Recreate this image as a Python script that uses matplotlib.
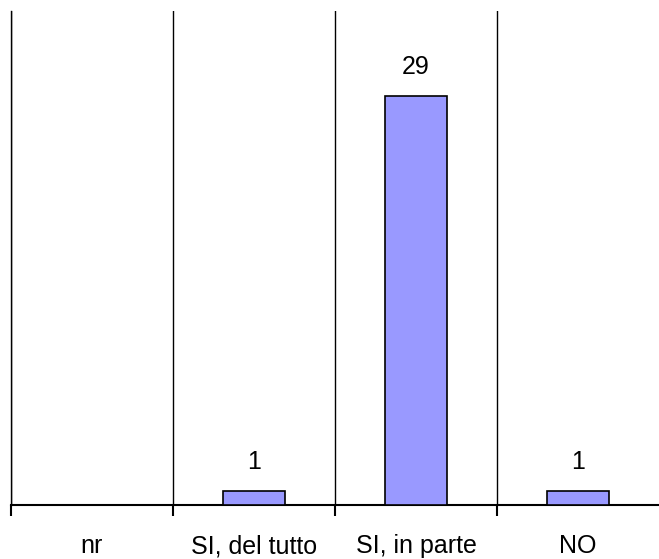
import numpy as np
import matplotlib
matplotlib.use('Agg')
import matplotlib.pyplot as plt

categories = ['nr', 'SI, del tutto', 'SI, in parte', 'NO']
values = [0, 1, 29, 1]

plt.rcParams['font.family'] = ['Liberation Sans', 'DejaVu Sans']

fig = plt.figure(figsize=(6.59, 5.59), dpi=100)
W, H = 659, 559
ax = fig.add_axes([11 / W, (H - 505) / H, (W - 11) / W, (505 - 11) / H])

x = np.arange(len(categories))
bars = ax.bar(x, values, width=0.38, color='#9999ff', edgecolor='black', linewidth=1.2, zorder=3)

for xi, v in zip(x, values):
    if v > 0:
        ax.annotate(str(v), (xi, v), xytext=(0, 12), textcoords='offset points',
                    ha='center', va='bottom', fontsize=18)

ax.set_xlim(-0.5, len(categories) - 0.5)
ax.set_ylim(0, 35)

# category boundaries: ticks + divider lines
bounds = np.arange(len(categories) + 1) - 0.5
ax.set_xticks(bounds[:-1])
ax.set_xticklabels([])
ax.tick_params(axis='x', which='major', direction='out', length=8, width=1.5, color='black')
ax.set_xticks(x, minor=True)
ax.set_xticklabels(categories, minor=True, fontsize=18)
ax.tick_params(axis='x', which='minor', length=0, pad=21)
ax.xaxis.grid(True, which='major', color='black', linewidth=1)
ax.set_yticks([])

ax.spines['top'].set_visible(False)
ax.spines['right'].set_visible(False)
ax.spines['bottom'].set_linewidth(1.5)
ax.spines['left'].set_linewidth(1)

fig.savefig('out.png', dpi=100)
